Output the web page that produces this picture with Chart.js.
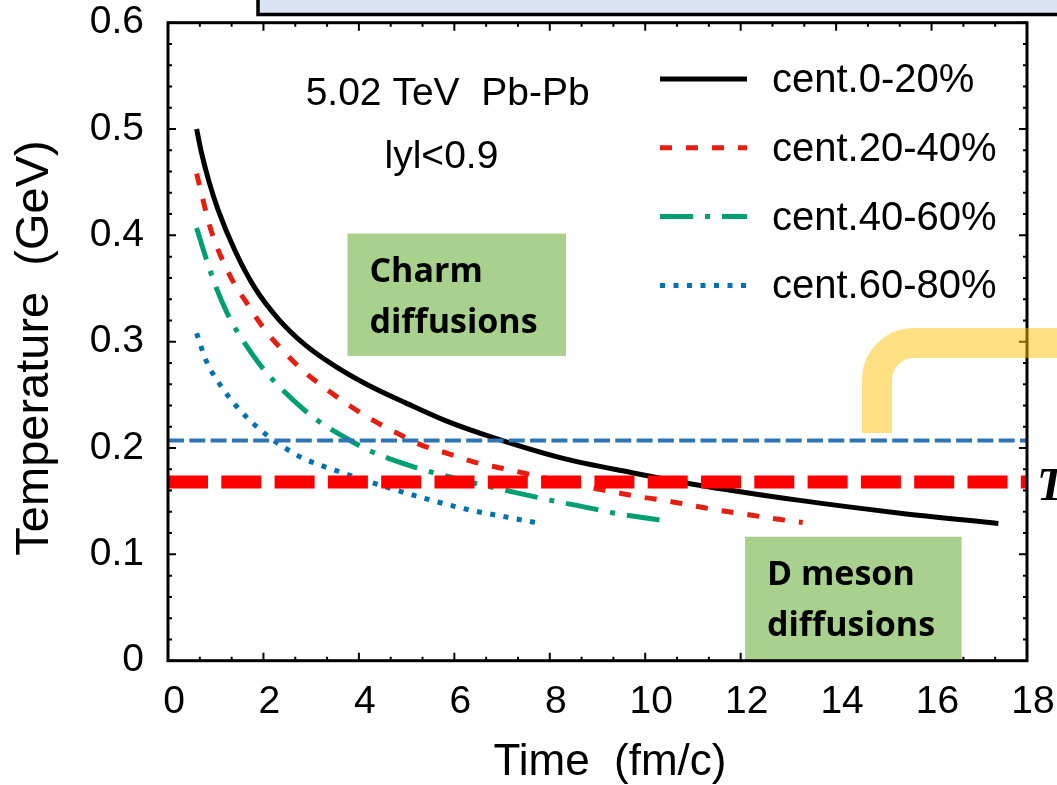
<!DOCTYPE html>
<html>
<head>
<meta charset="utf-8">
<script src="https://cdn.jsdelivr.net/npm/chart.js@4.4.0/dist/chart.umd.min.js"></script>
<style>
  html, body { margin: 0; padding: 0; background: #fff; }
  #tempChart { display: block; }
</style>
</head>
<body>
<canvas id="tempChart" width="1057" height="785"></canvas>
<script>
// ---- data ----
const cent0020Time = [0.6, 0.7, 0.85, 1.05, 1.4, 1.8, 2.3, 2.9, 3.5, 4.2, 5.0, 5.8, 6.8, 8.3, 9.7, 11.0, 13.2, 15.3, 17.4];
const cent0020Temp = [0.500, 0.478, 0.452, 0.424, 0.386, 0.352, 0.322, 0.296, 0.277, 0.259, 0.242, 0.226, 0.210, 0.190, 0.177, 0.166, 0.151, 0.139, 0.129];

const cent2040Time = [0.6, 0.9, 1.3, 1.7, 2.0, 2.4, 2.85, 3.3, 3.8, 4.3, 4.8, 5.3, 5.85, 6.4, 7.0, 7.6, 8.7, 9.3, 9.9, 10.5, 11.1, 11.6, 12.2, 12.8, 13.3];
const cent2040Temp = [0.458, 0.405, 0.362, 0.333, 0.313, 0.292, 0.272, 0.256, 0.240, 0.226, 0.214, 0.203, 0.195, 0.187, 0.181, 0.175, 0.164, 0.159, 0.154, 0.150, 0.145, 0.141, 0.137, 0.133, 0.130];

const cent4060Time = [0.6, 0.8, 1.0, 1.25, 1.5, 1.9, 2.2, 2.8, 3.1, 3.9, 4.2, 5.1, 5.8, 6.8, 7.6, 8.0, 8.9, 9.2, 10.2, 10.5];
const cent4060Temp = [0.407, 0.378, 0.352, 0.326, 0.306, 0.280, 0.264, 0.238, 0.227, 0.205, 0.198, 0.183, 0.174, 0.163, 0.155, 0.151, 0.143, 0.140, 0.133, 0.131];

const cent6080Time = [0.6, 0.8, 1.1, 1.5, 2.1, 2.6, 2.85, 3.7, 4.45, 5.35, 6.2, 7.1, 7.7];
const cent6080Temp = [0.308, 0.282, 0.259, 0.236, 0.211, 0.196, 0.190, 0.176, 0.165, 0.153, 0.143, 0.135, 0.130];

const refLineTime = [0, 18];
const blueLineTemp = [0.207, 0.207];
const tcLineTemp = [0.168, 0.168];

const seriesNames = ['cent.0-20%', 'cent.20-40%', 'cent.40-60%', 'cent.60-80%'];
const xTickValues = [0, 2, 4, 6, 8, 10, 12, 14, 16, 18];
const xTickLabels = ['0', '2', '4', '6', '8', '10', '12', '14', '16', '18'];
const yTickValues = [0, 0.1, 0.2, 0.3, 0.4, 0.5, 0.6];
const yTickLabels = ['0', '0.1', '0.2', '0.3', '0.4', '0.5', '0.6'];

const toPoints = (xs, ys) => xs.map((v, i) => ({ x: v, y: ys[i] }));

const SANS = '"Liberation Sans", Arial, sans-serif';
Chart.defaults.font.family = SANS;
Chart.defaults.color = '#000';

/* ---------- tick marks, frame and annotations ---------- */
function drawTickMarks(chart) {
    const { ctx, chartArea: a, scales: { x, y } } = chart;
    ctx.save();
    ctx.strokeStyle = '#000';
    ctx.lineWidth = 2;
    ctx.beginPath();
    for (let k = 0; k <= 27; k++) {
        const px = x.getPixelForValue(k * 2 / 3);
        const len = k % 3 === 0 ? 8 : 4;
        ctx.moveTo(px, a.bottom); ctx.lineTo(px, a.bottom - len);
        ctx.moveTo(px, a.top); ctx.lineTo(px, a.top + len);
    }
    for (let k = 0; k <= 30; k++) {
        const py = y.getPixelForValue(k * 0.02);
        const len = k % 5 === 0 ? 8 : 4;
        ctx.moveTo(a.left, py); ctx.lineTo(a.left + len, py);
        ctx.moveTo(a.right, py); ctx.lineTo(a.right - len, py);
    }
    ctx.stroke();
    ctx.restore();
}

function noteBox(chart, x0, x1, y0, y1, lines) {
    const { ctx, scales: { x, y } } = chart;
    const l = x.getPixelForValue(x0), r = x.getPixelForValue(x1);
    const t = y.getPixelForValue(y1), b = y.getPixelForValue(y0);
    ctx.fillStyle = '#a9d18e';
    ctx.fillRect(l, t, r - l, b - t);
    ctx.fillStyle = '#000';
    ctx.font = 'bold 34px "Open Sans", sans-serif';
    ctx.textAlign = 'left';
    ctx.textBaseline = 'alphabetic';
    lines.forEach((s, i) => ctx.fillText(s, l + 22, t + 48 + i * 51));
}

const decor = {
    id: 'decor',
    beforeDatasetsDraw(chart) {
        drawTickMarks(chart);
    },
    afterDatasetsDraw(chart) {
        const { ctx, chartArea: a, scales: { x, y } } = chart;
        ctx.save();

        noteBox(chart, 3.76, 8.34, 0.2866, 0.4017, ['Charm', 'diffusions']);
        noteBox(chart, 12.09, 16.63, 0, 0.1166, ['D meson', 'diffusions']);

        // collision system text
        ctx.fillStyle = '#000';
        ctx.font = '39px ' + SANS;
        ctx.textAlign = 'center';
        ctx.textBaseline = 'alphabetic';
        ctx.fillText('5.02 TeV  Pb-Pb', x.getPixelForValue(5.86), y.getPixelForValue(0.5227));
        ctx.fillText('lyl<0.9', x.getPixelForValue(5.73), y.getPixelForValue(0.4634));

        // legend
        const curves = chart.data.datasets.slice(2);
        curves.forEach((ds, i) => {
            const ly = a.top + 56.3 + i * 68.8;
            ctx.save();
            ctx.strokeStyle = ds.borderColor;
            ctx.lineWidth = ds.borderWidth;
            ctx.setLineDash(ds.borderDash || []);
            ctx.beginPath();
            ctx.moveTo(660, ly);
            ctx.lineTo(747, ly);
            ctx.stroke();
            ctx.restore();
            ctx.fillStyle = '#000';
            ctx.font = '40px ' + SANS;
            ctx.textAlign = 'left';
            ctx.textBaseline = 'middle';
            ctx.fillText(ds.label, 772, ly + 2);
        });

        // frame
        ctx.strokeStyle = '#000';
        ctx.lineWidth = 3;
        ctx.strokeRect(a.left, a.top, a.right - a.left, a.bottom - a.top);

        // axis titles
        ctx.fillStyle = '#000';
        ctx.font = '44px ' + SANS;
        ctx.textAlign = 'center';
        ctx.textBaseline = 'alphabetic';
        ctx.fillText('Time  (fm/c)', 610, 775);
        ctx.save();
        ctx.font = '47px ' + SANS;
        ctx.translate(48, 348);
        ctx.rotate(-Math.PI / 2);
        ctx.fillText('Temperature  (GeV)', 0, 0);
        ctx.restore();

        // slide box at the top edge
        ctx.fillStyle = '#dae3f3';
        ctx.fillRect(258, -10, 820, 24.5);
        ctx.lineWidth = 3.5;
        ctx.strokeRect(258, -10, 820, 24.5);

        // yellow bracket
        ctx.strokeStyle = 'rgba(255, 193, 7, 0.5)';
        ctx.lineWidth = 30;
        ctx.lineCap = 'butt';
        ctx.beginPath();
        ctx.moveTo(877, 433);
        ctx.lineTo(877, 380);
        ctx.arcTo(877, 343, 914, 343, 37);
        ctx.lineTo(1070, 343);
        ctx.stroke();

        // clipped T_c label
        ctx.fillStyle = '#000';
        ctx.font = 'bold italic 46px "Liberation Serif", serif';
        ctx.textAlign = 'left';
        ctx.fillText('T', 1037, 500);

        ctx.restore();
    }
};

const lineBase = { pointRadius: 0, fill: false, cubicInterpolationMode: 'monotone', borderCapStyle: 'butt' };

new Chart(document.getElementById('tempChart'), {
    type: 'line',
    data: {
        datasets: [
            { ...lineBase, label: 'Tc', data: toPoints(refLineTime, tcLineTemp), borderColor: '#ff0000', borderWidth: 13, borderDash: [40, 13.3] },
            { ...lineBase, label: 'ref', data: toPoints(refLineTime, blueLineTemp), borderColor: '#2e75b6', borderWidth: 4, borderDash: [16, 5.3] },
            { ...lineBase, label: seriesNames[0], data: toPoints(cent0020Time, cent0020Temp), borderColor: '#000000', borderWidth: 5 },
            { ...lineBase, label: seriesNames[1], data: toPoints(cent2040Time, cent2040Temp), borderColor: '#e51e10', borderWidth: 5, borderDash: [12, 14] },
            { ...lineBase, label: seriesNames[2], data: toPoints(cent4060Time, cent4060Temp), borderColor: '#009e73', borderWidth: 5, borderDash: [33, 12, 5, 12] },
            { ...lineBase, label: seriesNames[3], data: toPoints(cent6080Time, cent6080Temp), borderColor: '#0072b2', borderWidth: 5, borderDash: [5, 8.5] }
        ]
    },
    options: {
        responsive: false,
        devicePixelRatio: 1,
        animation: false,
        layout: { padding: { top: 22.7, right: 30, left: 0, bottom: 0 } },
        plugins: { legend: { display: false }, tooltip: { enabled: false } },
        scales: {
            x: {
                type: 'linear',
                min: 0,
                max: 18,
                afterBuildTicks: (s) => { s.ticks = xTickValues.map((v) => ({ value: v })); },
                afterFit: (s) => { s.height = 124.3; s.paddingLeft = 0; s.paddingRight = 0; },
                ticks: {
                    font: { size: 39 },
                    color: '#000',
                    padding: 18,
                    labelOffset: 6,
                    maxRotation: 0,
                    autoSkip: false,
                    callback: (v) => xTickLabels[xTickValues.indexOf(v)]
                },
                grid: { display: false, drawTicks: false },
                border: { display: false }
            },
            y: {
                type: 'linear',
                min: 0,
                max: 0.6,
                afterBuildTicks: (s) => { s.ticks = yTickValues.map((v) => ({ value: v })); },
                afterFit: (s) => { s.width = 168; s.paddingTop = 0; s.paddingBottom = 0; },
                ticks: {
                    font: { size: 39 },
                    color: '#000',
                    padding: 24,
                    autoSkip: false,
                    callback: (v) => yTickLabels[yTickValues.findIndex((t) => Math.abs(t - v) < 1e-9)]
                },
                grid: { display: false, drawTicks: false },
                border: { display: false }
            }
        }
    },
    plugins: [decor]
});
</script>
</body>
</html>
